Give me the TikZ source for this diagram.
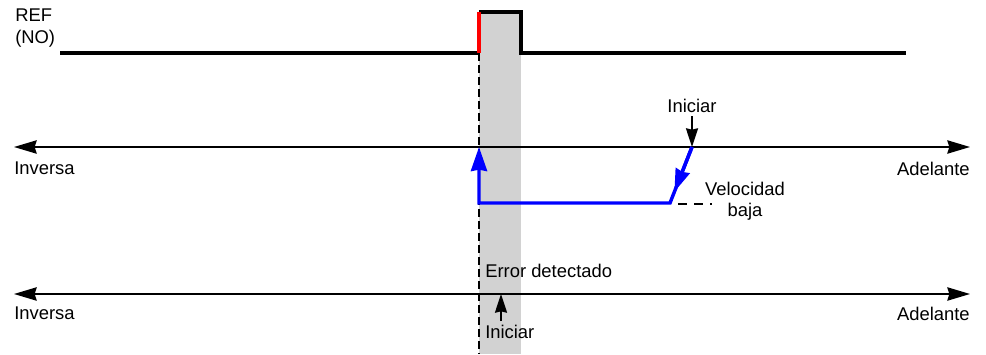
\documentclass[tikz,border=0pt]{standalone}
\usepackage{fontspec}
\setmainfont{Liberation Sans}
\usetikzlibrary{arrows.meta,calc}

\begin{document}
\begin{tikzpicture}[x=0.75pt, y=-0.75pt, >=Stealth, line join=miter, line cap=butt,
  every node/.style={font=\fontsize{13.8}{16}\selectfont, inner sep=0pt},
  axisline/.style={line width=1.3pt, {Stealth[length=17pt,width=10pt,inset=1.5pt]}-{Stealth[length=17pt,width=10pt,inset=1.5pt]}},
  refline/.style={line width=2.4pt},
  movepath/.style={line width=2.6pt, blue},
  marker/.style={line width=1.3pt, -{Stealth[length=14pt,width=9pt,inset=1pt]}}]
	\useasboundingbox (0,0) rectangle (986,354);
	% senal REF
	\fill[gray!35] (479,12) rectangle (521,354);
	\node[anchor=north west, align=left] (ref) at (15,9) {REF\\(NO)};
	\coordinate (r0) at (60,53);
	\coordinate (r1) at (479,53);
	\coordinate (r2) at (479,12);
	\coordinate (r3) at (521,12);
	\coordinate (r4) at (521,53);
	\coordinate (r5) at (906,53);
	\coordinate (rb) at (479,354);
	\draw[refline] (r0) -- (r1);
	\draw[refline] (r2) -- (r3) -- (r4) -- (r5);
	\draw[refline, red] (r1) -- (r2);
	\draw[line width=1.3pt, dash pattern=on 6pt off 3pt] (r1) -- (rb);
	% eje superior
	\coordinate (a1l) at (14,147);
	\coordinate (a1r) at (970,147);
	\draw[axisline] (a1l) -- (a1r);
	\node[anchor=north west] (inv1) at (14,162) {Inversa};
	\node[anchor=north east] (adl1) at (970,162) {Adelante};
	% movimiento
	\coordinate (b1) at (692,147);
	\coordinate (b2) at (670,203);
	\coordinate (b3) at (479,203);
	\coordinate (b4) at (479,147);
	\draw[movepath, -{Stealth[length=18pt,width=12pt,inset=1pt]}] (b1) -- (b2) -- (b3) -- (b4);
	\draw[movepath, -{Stealth[length=17pt,width=11pt,inset=1pt]}] (b1) -- ($(b1)!0.8!(b2)$);
	\node[anchor=south] (ini1) at (692,113) {Iniciar};
	\draw[marker] (ini1.south) ++(0,3) coordinate (m1) (m1) -- (b1);
	\node[anchor=north, align=center] (vel) at (745,182) {Velocidad\\baja};
	\coordinate (d1) at (678,204);
	\coordinate (d2) at (712,204);
	\draw[line width=1.3pt, dash pattern=on 7pt off 5pt] (d1) -- (d2);
	% eje inferior
	\coordinate (a2l) at (14,294);
	\coordinate (a2r) at (970,294);
	\draw[axisline] (a2l) -- (a2r);
	\node[anchor=north west] (inv2) at (14,307) {Inversa};
	\node[anchor=north east] (adl2) at (970,307) {Adelante};
	\node[anchor=north west] (err) at (485,264) {Error detectado};
	\node[anchor=north west] (ini2) at (485,325) {Iniciar};
	\coordinate (m2) at (501,321);
	\coordinate (t2) at (501,294);
	\draw[marker] (m2) -- (t2);
\end{tikzpicture}
\end{document}
